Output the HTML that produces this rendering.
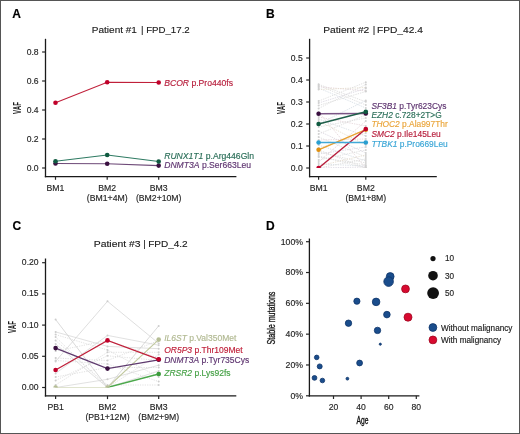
<!DOCTYPE html>
<html><head><meta charset="utf-8"><style>
html,body{margin:0;padding:0;background:#fff;}
body{width:520px;height:434px;overflow:hidden;}
svg{display:block;will-change:transform;font-family:"Liberation Sans",sans-serif;}
</style></head><body>
<svg width="520" height="434" viewBox="0 0 520 434">
<defs><clipPath id="clipB"><rect x="300" y="30" width="140" height="138"/></clipPath><clipPath id="clipC"><rect x="40" y="250" width="200" height="137.5"/></clipPath></defs>
<rect x="0" y="0" width="520" height="434" fill="#fff"/>
<g>
<rect x="0" y="0" width="520" height="434" fill="#fff"/>
<text x="12.2" y="17.8" font-size="12" fill="#000" stroke="#000" stroke-width="0.15" text-anchor="start" font-weight="bold" font-style="normal" >A</text>
<text x="91.80" y="33.3" font-size="9.75" fill="#1a1a1a" stroke="#1a1a1a" stroke-width="0.14" textLength="45.14" lengthAdjust="spacingAndGlyphs">Patient #1</text>
<text x="142.15" y="33.3" font-size="9.75" fill="#1a1a1a" stroke="#1a1a1a" stroke-width="0.12" text-anchor="middle">|</text>
<text x="146.13" y="33.3" font-size="9.75" fill="#1a1a1a" stroke="#1a1a1a" stroke-width="0.14" textLength="43.58" lengthAdjust="spacingAndGlyphs">FPD_17.2</text>
<line x1="45.5" y1="38.8" x2="45.5" y2="177.25" stroke="#1a1a1a" stroke-width="1.3" />
<line x1="44.85" y1="176.6" x2="236.4" y2="176.6" stroke="#1a1a1a" stroke-width="1.3" />
<line x1="42.1" y1="168" x2="45.5" y2="168" stroke="#262626" stroke-width="1.2" />
<text x="38.6" y="170.5" font-size="8.6" fill="#262626" stroke="#262626" stroke-width="0.15" text-anchor="end" font-weight="normal" font-style="normal" >0.0</text>
<line x1="42.1" y1="139.0" x2="45.5" y2="139.0" stroke="#262626" stroke-width="1.2" />
<text x="38.6" y="141.5" font-size="8.6" fill="#262626" stroke="#262626" stroke-width="0.15" text-anchor="end" font-weight="normal" font-style="normal" >0.2</text>
<line x1="42.1" y1="110.0" x2="45.5" y2="110.0" stroke="#262626" stroke-width="1.2" />
<text x="38.6" y="112.5" font-size="8.6" fill="#262626" stroke="#262626" stroke-width="0.15" text-anchor="end" font-weight="normal" font-style="normal" >0.4</text>
<line x1="42.1" y1="81.0" x2="45.5" y2="81.0" stroke="#262626" stroke-width="1.2" />
<text x="38.6" y="83.5" font-size="8.6" fill="#262626" stroke="#262626" stroke-width="0.15" text-anchor="end" font-weight="normal" font-style="normal" >0.6</text>
<line x1="42.1" y1="52.0" x2="45.5" y2="52.0" stroke="#262626" stroke-width="1.2" />
<text x="38.6" y="54.5" font-size="8.6" fill="#262626" stroke="#262626" stroke-width="0.15" text-anchor="end" font-weight="normal" font-style="normal" >0.8</text>
<line x1="55.5" y1="176.6" x2="55.5" y2="179.79999999999998" stroke="#262626" stroke-width="1.2" />
<text x="55.5" y="190.9" font-size="8.7" fill="#262626" stroke="#262626" stroke-width="0.15" text-anchor="middle" font-weight="normal" font-style="normal" >BM1</text>
<line x1="107.2" y1="176.6" x2="107.2" y2="179.79999999999998" stroke="#262626" stroke-width="1.2" />
<text x="107.2" y="190.9" font-size="8.7" fill="#262626" stroke="#262626" stroke-width="0.15" text-anchor="middle" font-weight="normal" font-style="normal" >BM2</text>
<text x="107.2" y="200.9" font-size="8.7" fill="#262626" stroke="#262626" stroke-width="0.15" text-anchor="middle" font-weight="normal" font-style="normal" >(BM1+4M)</text>
<line x1="158.7" y1="176.6" x2="158.7" y2="179.79999999999998" stroke="#262626" stroke-width="1.2" />
<text x="158.7" y="190.9" font-size="8.7" fill="#262626" stroke="#262626" stroke-width="0.15" text-anchor="middle" font-weight="normal" font-style="normal" >BM3</text>
<text x="158.7" y="200.9" font-size="8.7" fill="#262626" stroke="#262626" stroke-width="0.15" text-anchor="middle" font-weight="normal" font-style="normal" >(BM2+10M)</text>
<text transform="translate(20.6,108) rotate(-90) scale(0.61,1)" font-size="10.2" font-weight="bold" fill="#1a1a1a" stroke="#1a1a1a" stroke-width="0" text-anchor="middle">VAF</text>
<polyline points="55.5,163.5 107.2,163.7 158.7,165.6" fill="none" stroke="#6e4a78" stroke-width="1.1" />
<circle cx="55.5" cy="163.5" r="2.3" fill="#3a1040" />
<circle cx="107.2" cy="163.7" r="2.3" fill="#3a1040" />
<circle cx="158.7" cy="165.6" r="2.3" fill="#3a1040" />
<polyline points="55.5,161.3 107.2,155 158.7,161.5" fill="none" stroke="#2e7a62" stroke-width="1.1" />
<circle cx="55.5" cy="161.3" r="2.3" fill="#0f5a40" />
<circle cx="107.2" cy="155" r="2.3" fill="#0f5a40" />
<circle cx="158.7" cy="161.5" r="2.3" fill="#0f5a40" />
<polyline points="55.5,102.7 107.2,82.3 158.7,82.5" fill="none" stroke="#c0203a" stroke-width="1.1" />
<circle cx="55.5" cy="102.7" r="2.3" fill="#c0002a" />
<circle cx="107.2" cy="82.3" r="2.3" fill="#c0002a" />
<circle cx="158.7" cy="82.5" r="2.3" fill="#c0002a" />
<text x="164.2" y="85.7" font-size="8.6" fill="#b8203e" stroke="#b8203e" stroke-width="0.15"><tspan font-style="italic">BCOR</tspan> p.Pro440fs</text>
<text x="164.2" y="158.8" font-size="8.6" fill="#2a6e58" stroke="#2a6e58" stroke-width="0.15"><tspan font-style="italic">RUNX1T1</tspan> p.Arg446Gln</text>
<text x="164.2" y="167.7" font-size="8.6" fill="#5e3470" stroke="#5e3470" stroke-width="0.15"><tspan font-style="italic">DNMT3A</tspan> p.Ser663Leu</text>
<text x="266" y="17.7" font-size="12" fill="#000" stroke="#000" stroke-width="0.15" text-anchor="start" font-weight="bold" font-style="normal" >B</text>
<text x="323.28" y="33.3" font-size="9.75" fill="#1a1a1a" stroke="#1a1a1a" stroke-width="0.14" textLength="46.06" lengthAdjust="spacingAndGlyphs">Patient #2</text>
<text x="374.05" y="33.3" font-size="9.75" fill="#1a1a1a" stroke="#1a1a1a" stroke-width="0.12" text-anchor="middle">|</text>
<text x="376.99" y="33.3" font-size="9.75" fill="#1a1a1a" stroke="#1a1a1a" stroke-width="0.14" textLength="45.85" lengthAdjust="spacingAndGlyphs">FPD_42.4</text>
<line x1="309.6" y1="38.8" x2="309.6" y2="177.25" stroke="#1a1a1a" stroke-width="1.3" />
<line x1="308.95000000000005" y1="176.6" x2="436.8" y2="176.6" stroke="#1a1a1a" stroke-width="1.3" />
<line x1="306.20000000000005" y1="168" x2="309.6" y2="168" stroke="#262626" stroke-width="1.2" />
<text x="302.8" y="170.5" font-size="8.6" fill="#262626" stroke="#262626" stroke-width="0.15" text-anchor="end" font-weight="normal" font-style="normal" >0.0</text>
<line x1="306.20000000000005" y1="146.0" x2="309.6" y2="146.0" stroke="#262626" stroke-width="1.2" />
<text x="302.8" y="148.5" font-size="8.6" fill="#262626" stroke="#262626" stroke-width="0.15" text-anchor="end" font-weight="normal" font-style="normal" >0.1</text>
<line x1="306.20000000000005" y1="124.0" x2="309.6" y2="124.0" stroke="#262626" stroke-width="1.2" />
<text x="302.8" y="126.5" font-size="8.6" fill="#262626" stroke="#262626" stroke-width="0.15" text-anchor="end" font-weight="normal" font-style="normal" >0.2</text>
<line x1="306.20000000000005" y1="102.0" x2="309.6" y2="102.0" stroke="#262626" stroke-width="1.2" />
<text x="302.8" y="104.5" font-size="8.6" fill="#262626" stroke="#262626" stroke-width="0.15" text-anchor="end" font-weight="normal" font-style="normal" >0.3</text>
<line x1="306.20000000000005" y1="80.0" x2="309.6" y2="80.0" stroke="#262626" stroke-width="1.2" />
<text x="302.8" y="82.5" font-size="8.6" fill="#262626" stroke="#262626" stroke-width="0.15" text-anchor="end" font-weight="normal" font-style="normal" >0.4</text>
<line x1="306.20000000000005" y1="58.0" x2="309.6" y2="58.0" stroke="#262626" stroke-width="1.2" />
<text x="302.8" y="60.5" font-size="8.6" fill="#262626" stroke="#262626" stroke-width="0.15" text-anchor="end" font-weight="normal" font-style="normal" >0.5</text>
<line x1="318.6" y1="176.6" x2="318.6" y2="179.79999999999998" stroke="#262626" stroke-width="1.2" />
<text x="318.6" y="190.9" font-size="8.7" fill="#262626" stroke="#262626" stroke-width="0.15" text-anchor="middle" font-weight="normal" font-style="normal" >BM1</text>
<line x1="365.8" y1="176.6" x2="365.8" y2="179.79999999999998" stroke="#262626" stroke-width="1.2" />
<text x="365.8" y="190.9" font-size="8.7" fill="#262626" stroke="#262626" stroke-width="0.15" text-anchor="middle" font-weight="normal" font-style="normal" >BM2</text>
<text x="365.8" y="200.9" font-size="8.7" fill="#262626" stroke="#262626" stroke-width="0.15" text-anchor="middle" font-weight="normal" font-style="normal" >(BM1+8M)</text>
<text transform="translate(284.6,108) rotate(-90) scale(0.61,1)" font-size="10.2" font-weight="bold" fill="#1a1a1a" stroke="#1a1a1a" stroke-width="0" text-anchor="middle">VAF</text>
<g clip-path="url(#clipB)">
<line x1="318.6" y1="84.3" x2="365.8" y2="101.8" stroke="#d9d9d9" stroke-width="0.8" stroke-dasharray="1.4 1"/>
<line x1="318.6" y1="85.5" x2="365.8" y2="105" stroke="#dcdcdc" stroke-width="0.8" stroke-dasharray="1.4 1"/>
<line x1="318.6" y1="86.7" x2="365.8" y2="90.9" stroke="#e3d3d8" stroke-width="0.8" stroke-dasharray="1.4 1"/>
<line x1="318.6" y1="88" x2="365.8" y2="108" stroke="#d4dce3" stroke-width="0.8" stroke-dasharray="1.4 1"/>
<line x1="318.6" y1="89.5" x2="365.8" y2="87.5" stroke="#e5dccb" stroke-width="0.8" stroke-dasharray="1.4 1"/>
<line x1="318.6" y1="101.1" x2="365.8" y2="82.2" stroke="#dadada" stroke-width="0.8" stroke-dasharray="1.4 1"/>
<line x1="318.6" y1="103" x2="365.8" y2="88.5" stroke="#d8d4e0" stroke-width="0.8" stroke-dasharray="1.4 1"/>
<line x1="318.6" y1="105.5" x2="365.8" y2="91.5" stroke="#d9d9d9" stroke-width="0.8" stroke-dasharray="1.4 1"/>
<line x1="318.6" y1="108.5" x2="365.8" y2="84.5" stroke="#dcdcdc" stroke-width="0.8" stroke-dasharray="1.4 1"/>
<line x1="318.6" y1="117" x2="365.8" y2="126" stroke="#e3d3d8" stroke-width="0.8" stroke-dasharray="1.4 1"/>
<line x1="318.6" y1="119" x2="365.8" y2="136" stroke="#d4dce3" stroke-width="0.8" stroke-dasharray="1.4 1"/>
<line x1="318.6" y1="121" x2="365.8" y2="145" stroke="#e5dccb" stroke-width="0.8" stroke-dasharray="1.4 1"/>
<line x1="318.6" y1="127" x2="365.8" y2="118" stroke="#dadada" stroke-width="0.8" stroke-dasharray="1.4 1"/>
<line x1="318.6" y1="131" x2="365.8" y2="153" stroke="#d8d4e0" stroke-width="0.8" stroke-dasharray="1.4 1"/>
<line x1="318.6" y1="134" x2="365.8" y2="115" stroke="#d9d9d9" stroke-width="0.8" stroke-dasharray="1.4 1"/>
<line x1="318.6" y1="137" x2="365.8" y2="157" stroke="#dcdcdc" stroke-width="0.8" stroke-dasharray="1.4 1"/>
<line x1="318.6" y1="140" x2="365.8" y2="139" stroke="#e3d3d8" stroke-width="0.8" stroke-dasharray="1.4 1"/>
<line x1="318.6" y1="145" x2="365.8" y2="161" stroke="#d4dce3" stroke-width="0.8" stroke-dasharray="1.4 1"/>
<line x1="318.6" y1="148" x2="365.8" y2="133" stroke="#e5dccb" stroke-width="0.8" stroke-dasharray="1.4 1"/>
<line x1="318.6" y1="152" x2="365.8" y2="163" stroke="#dadada" stroke-width="0.8" stroke-dasharray="1.4 1"/>
<line x1="318.6" y1="154" x2="365.8" y2="147" stroke="#d8d4e0" stroke-width="0.8" stroke-dasharray="1.4 1"/>
<line x1="318.6" y1="157" x2="365.8" y2="165" stroke="#d9d9d9" stroke-width="0.8" stroke-dasharray="1.4 1"/>
<line x1="318.6" y1="160" x2="365.8" y2="150" stroke="#dcdcdc" stroke-width="0.8" stroke-dasharray="1.4 1"/>
<line x1="318.6" y1="162" x2="365.8" y2="121" stroke="#e3d3d8" stroke-width="0.8" stroke-dasharray="1.4 1"/>
<line x1="318.6" y1="164" x2="365.8" y2="166" stroke="#d4dce3" stroke-width="0.8" stroke-dasharray="1.4 1"/>
<line x1="318.6" y1="166" x2="365.8" y2="155" stroke="#e5dccb" stroke-width="0.8" stroke-dasharray="1.4 1"/>
<line x1="318.6" y1="168" x2="365.8" y2="159" stroke="#dadada" stroke-width="0.8" stroke-dasharray="1.4 1"/>
<line x1="318.6" y1="168" x2="365.8" y2="167" stroke="#d8d4e0" stroke-width="0.8" stroke-dasharray="1.4 1"/>
<line x1="318.6" y1="150" x2="365.8" y2="168" stroke="#d9d9d9" stroke-width="0.8" stroke-dasharray="1.4 1"/>
<line x1="318.6" y1="156" x2="365.8" y2="168" stroke="#dcdcdc" stroke-width="0.8" stroke-dasharray="1.4 1"/>
<line x1="318.6" y1="112" x2="365.8" y2="168" stroke="#e3d3d8" stroke-width="0.8" stroke-dasharray="1.4 1"/>
<line x1="318.6" y1="124" x2="365.8" y2="100.5" stroke="#d4dce3" stroke-width="0.8" stroke-dasharray="1.4 1"/>
<circle cx="318.6" cy="84.3" r="1.0" fill="#d0d0d0" />
<circle cx="365.8" cy="101.8" r="1.0" fill="#d0d0d0" />
<circle cx="318.6" cy="85.5" r="1.0" fill="#d0d0d0" />
<circle cx="365.8" cy="105" r="1.0" fill="#d0d0d0" />
<circle cx="318.6" cy="86.7" r="1.0" fill="#d0d0d0" />
<circle cx="365.8" cy="90.9" r="1.0" fill="#d0d0d0" />
<circle cx="318.6" cy="88" r="1.0" fill="#d0d0d0" />
<circle cx="365.8" cy="108" r="1.0" fill="#d0d0d0" />
<circle cx="318.6" cy="89.5" r="1.0" fill="#d0d0d0" />
<circle cx="365.8" cy="87.5" r="1.0" fill="#d0d0d0" />
<circle cx="318.6" cy="101.1" r="1.0" fill="#d0d0d0" />
<circle cx="365.8" cy="82.2" r="1.0" fill="#d0d0d0" />
<circle cx="318.6" cy="103" r="1.0" fill="#d0d0d0" />
<circle cx="365.8" cy="88.5" r="1.0" fill="#d0d0d0" />
<circle cx="318.6" cy="105.5" r="1.0" fill="#d0d0d0" />
<circle cx="365.8" cy="91.5" r="1.0" fill="#d0d0d0" />
<circle cx="318.6" cy="108.5" r="1.0" fill="#d0d0d0" />
<circle cx="365.8" cy="84.5" r="1.0" fill="#d0d0d0" />
<circle cx="318.6" cy="117" r="1.0" fill="#d0d0d0" />
<circle cx="365.8" cy="126" r="1.0" fill="#d0d0d0" />
<circle cx="318.6" cy="119" r="1.0" fill="#d0d0d0" />
<circle cx="365.8" cy="136" r="1.0" fill="#d0d0d0" />
<circle cx="318.6" cy="121" r="1.0" fill="#d0d0d0" />
<circle cx="365.8" cy="145" r="1.0" fill="#d0d0d0" />
<circle cx="318.6" cy="127" r="1.0" fill="#d0d0d0" />
<circle cx="365.8" cy="118" r="1.0" fill="#d0d0d0" />
<circle cx="318.6" cy="131" r="1.0" fill="#d0d0d0" />
<circle cx="365.8" cy="153" r="1.0" fill="#d0d0d0" />
<circle cx="318.6" cy="134" r="1.0" fill="#d0d0d0" />
<circle cx="365.8" cy="115" r="1.0" fill="#d0d0d0" />
<circle cx="318.6" cy="137" r="1.0" fill="#d0d0d0" />
<circle cx="365.8" cy="157" r="1.0" fill="#d0d0d0" />
<circle cx="318.6" cy="140" r="1.0" fill="#d0d0d0" />
<circle cx="365.8" cy="139" r="1.0" fill="#d0d0d0" />
<circle cx="318.6" cy="145" r="1.0" fill="#d0d0d0" />
<circle cx="365.8" cy="161" r="1.0" fill="#d0d0d0" />
<circle cx="318.6" cy="148" r="1.0" fill="#d0d0d0" />
<circle cx="365.8" cy="133" r="1.0" fill="#d0d0d0" />
<circle cx="318.6" cy="152" r="1.0" fill="#d0d0d0" />
<circle cx="365.8" cy="163" r="1.0" fill="#d0d0d0" />
<circle cx="318.6" cy="154" r="1.0" fill="#d0d0d0" />
<circle cx="365.8" cy="147" r="1.0" fill="#d0d0d0" />
<circle cx="318.6" cy="157" r="1.0" fill="#d0d0d0" />
<circle cx="365.8" cy="165" r="1.0" fill="#d0d0d0" />
<circle cx="318.6" cy="160" r="1.0" fill="#d0d0d0" />
<circle cx="365.8" cy="150" r="1.0" fill="#d0d0d0" />
<circle cx="318.6" cy="162" r="1.0" fill="#d0d0d0" />
<circle cx="365.8" cy="121" r="1.0" fill="#d0d0d0" />
<circle cx="318.6" cy="164" r="1.0" fill="#d0d0d0" />
<circle cx="365.8" cy="166" r="1.0" fill="#d0d0d0" />
<circle cx="318.6" cy="166" r="1.0" fill="#d0d0d0" />
<circle cx="365.8" cy="155" r="1.0" fill="#d0d0d0" />
<circle cx="318.6" cy="168" r="1.0" fill="#d0d0d0" />
<circle cx="365.8" cy="159" r="1.0" fill="#d0d0d0" />
<circle cx="318.6" cy="168" r="1.0" fill="#d0d0d0" />
<circle cx="365.8" cy="167" r="1.0" fill="#d0d0d0" />
<circle cx="318.6" cy="150" r="1.0" fill="#d0d0d0" />
<circle cx="365.8" cy="168" r="1.0" fill="#d0d0d0" />
<circle cx="318.6" cy="156" r="1.0" fill="#d0d0d0" />
<circle cx="365.8" cy="168" r="1.0" fill="#d0d0d0" />
<circle cx="318.6" cy="112" r="1.0" fill="#d0d0d0" />
<circle cx="365.8" cy="168" r="1.0" fill="#d0d0d0" />
<circle cx="318.6" cy="124" r="1.0" fill="#d0d0d0" />
<circle cx="365.8" cy="100.5" r="1.0" fill="#d0d0d0" />
<polyline points="318.6,149.8 365.8,129.7" fill="none" stroke="#e8a030" stroke-width="1.4" />
<circle cx="318.6" cy="149.8" r="2.3" fill="#e09010" />
<circle cx="365.8" cy="129.7" r="2.3" fill="#e09010" />
<polyline points="318.6,168 365.8,129" fill="none" stroke="#b8203e" stroke-width="1.4" />
<circle cx="318.6" cy="168" r="2.3" fill="#c0002a" />
<circle cx="365.8" cy="129" r="2.3" fill="#c0002a" />
<polyline points="318.6,142.5 365.8,142.5" fill="none" stroke="#40a8d8" stroke-width="1.4" />
<circle cx="318.6" cy="142.5" r="2.3" fill="#2a9fd0" />
<circle cx="365.8" cy="142.5" r="2.3" fill="#2a9fd0" />
<polyline points="318.6,113.8 365.8,113.4" fill="none" stroke="#7a5585" stroke-width="1.5" />
<circle cx="318.6" cy="113.8" r="2.3" fill="#3a1040" />
<circle cx="365.8" cy="113.4" r="2.3" fill="#3a1040" />
<polyline points="318.6,124 365.8,111.8" fill="none" stroke="#1f5f4a" stroke-width="1.4" />
<circle cx="318.6" cy="124" r="2.3" fill="#0f5a40" />
<circle cx="365.8" cy="111.8" r="2.3" fill="#0f5a40" />
</g>
<text x="371.4" y="108.5" font-size="8.4" fill="#5e3470" stroke="#5e3470" stroke-width="0.15"><tspan font-style="italic">SF3B1</tspan> p.Tyr623Cys</text>
<text x="371.4" y="117.8" font-size="8.4" fill="#2a6e58" stroke="#2a6e58" stroke-width="0.15"><tspan font-style="italic">EZH2</tspan> c.728+2T&gt;G</text>
<text x="371.4" y="127.1" font-size="8.4" fill="#eaa53a" stroke="#eaa53a" stroke-width="0.15"><tspan font-style="italic">THOC2</tspan> p.Ala997Thr</text>
<text x="371.4" y="136.6" font-size="8.4" fill="#b8203e" stroke="#b8203e" stroke-width="0.15"><tspan font-style="italic">SMC2</tspan> p.Ile145Leu</text>
<text x="371.4" y="146.5" font-size="8.4" fill="#3aa6d6" stroke="#3aa6d6" stroke-width="0.15"><tspan font-style="italic">TTBK1</tspan> p.Pro669Leu</text>
<text x="12.6" y="230.3" font-size="12" fill="#000" stroke="#000" stroke-width="0.15" text-anchor="start" font-weight="bold" font-style="normal" >C</text>
<text x="93.77" y="246.7" font-size="9.75" fill="#1a1a1a" stroke="#1a1a1a" stroke-width="0.14" textLength="46.84" lengthAdjust="spacingAndGlyphs">Patient #3</text>
<text x="144.45" y="246.7" font-size="9.75" fill="#1a1a1a" stroke="#1a1a1a" stroke-width="0.12" text-anchor="middle">|</text>
<text x="148.20" y="246.7" font-size="9.75" fill="#1a1a1a" stroke="#1a1a1a" stroke-width="0.14" textLength="39.51" lengthAdjust="spacingAndGlyphs">FPD_4.2</text>
<line x1="45.5" y1="258.5" x2="45.5" y2="396.54999999999995" stroke="#1a1a1a" stroke-width="1.3" />
<line x1="44.85" y1="395.9" x2="236.3" y2="395.9" stroke="#1a1a1a" stroke-width="1.3" />
<line x1="42.1" y1="387.5" x2="45.5" y2="387.5" stroke="#262626" stroke-width="1.2" />
<text x="38.6" y="390.0" font-size="8.6" fill="#262626" stroke="#262626" stroke-width="0.15" text-anchor="end" font-weight="normal" font-style="normal" >0.00</text>
<line x1="42.1" y1="356.3" x2="45.5" y2="356.3" stroke="#262626" stroke-width="1.2" />
<text x="38.6" y="358.8" font-size="8.6" fill="#262626" stroke="#262626" stroke-width="0.15" text-anchor="end" font-weight="normal" font-style="normal" >0.05</text>
<line x1="42.1" y1="325.1" x2="45.5" y2="325.1" stroke="#262626" stroke-width="1.2" />
<text x="38.6" y="327.6" font-size="8.6" fill="#262626" stroke="#262626" stroke-width="0.15" text-anchor="end" font-weight="normal" font-style="normal" >0.10</text>
<line x1="42.1" y1="293.9" x2="45.5" y2="293.9" stroke="#262626" stroke-width="1.2" />
<text x="38.6" y="296.4" font-size="8.6" fill="#262626" stroke="#262626" stroke-width="0.15" text-anchor="end" font-weight="normal" font-style="normal" >0.15</text>
<line x1="42.1" y1="262.7" x2="45.5" y2="262.7" stroke="#262626" stroke-width="1.2" />
<text x="38.6" y="265.2" font-size="8.6" fill="#262626" stroke="#262626" stroke-width="0.15" text-anchor="end" font-weight="normal" font-style="normal" >0.20</text>
<line x1="55.6" y1="395.9" x2="55.6" y2="399.09999999999997" stroke="#262626" stroke-width="1.2" />
<text x="55.6" y="410.2" font-size="8.7" fill="#262626" stroke="#262626" stroke-width="0.15" text-anchor="middle" font-weight="normal" font-style="normal" >PB1</text>
<line x1="107.5" y1="395.9" x2="107.5" y2="399.09999999999997" stroke="#262626" stroke-width="1.2" />
<text x="107.5" y="410.2" font-size="8.7" fill="#262626" stroke="#262626" stroke-width="0.15" text-anchor="middle" font-weight="normal" font-style="normal" >BM2</text>
<text x="107.5" y="420.2" font-size="8.7" fill="#262626" stroke="#262626" stroke-width="0.15" text-anchor="middle" font-weight="normal" font-style="normal" >(PB1+12M)</text>
<line x1="158.7" y1="395.9" x2="158.7" y2="399.09999999999997" stroke="#262626" stroke-width="1.2" />
<text x="158.7" y="410.2" font-size="8.7" fill="#262626" stroke="#262626" stroke-width="0.15" text-anchor="middle" font-weight="normal" font-style="normal" >BM3</text>
<text x="158.7" y="420.2" font-size="8.7" fill="#262626" stroke="#262626" stroke-width="0.15" text-anchor="middle" font-weight="normal" font-style="normal" >(BM2+9M)</text>
<text transform="translate(15.9,326.9) rotate(-90) scale(0.61,1)" font-size="10.2" font-weight="bold" fill="#1a1a1a" stroke="#1a1a1a" stroke-width="0" text-anchor="middle">VAF</text>
<g clip-path="url(#clipC)">
<polyline points="55.6,331.9 107.5,346.4 158.7,348.7" fill="none" stroke="#d4d4d4" stroke-width="0.7" />
<polyline points="55.6,334.6 107.5,350 158.7,377" fill="none" stroke="#d4d4d4" stroke-width="0.7" stroke-dasharray="1.2 1.2"/>
<polyline points="55.6,337 107.5,387.5 158.7,354.6" fill="none" stroke="#d4d4d4" stroke-width="0.7" stroke-dasharray="1.2 1.2"/>
<polyline points="55.6,340.5 107.5,385 158.7,385" fill="none" stroke="#d4d4d4" stroke-width="0.7" stroke-dasharray="1.2 1.2"/>
<polyline points="55.6,344 107.5,387.5 158.7,371" fill="none" stroke="#d4d4d4" stroke-width="0.7" />
<polyline points="55.6,351 107.5,340.5 158.7,358" fill="none" stroke="#d4d4d4" stroke-width="0.7" stroke-dasharray="1.2 1.2"/>
<polyline points="55.6,358 107.5,360.5 158.7,340.5" fill="none" stroke="#d4d4d4" stroke-width="0.7" stroke-dasharray="1.2 1.2"/>
<polyline points="55.6,360.5 107.5,364 158.7,381.6" fill="none" stroke="#d4d4d4" stroke-width="0.7" stroke-dasharray="1.2 1.2"/>
<polyline points="55.6,373.4 107.5,335.4 158.7,345.2" fill="none" stroke="#d4d4d4" stroke-width="0.7" />
<polyline points="55.6,377 107.5,367.5 158.7,367.5" fill="none" stroke="#d4d4d4" stroke-width="0.7" stroke-dasharray="1.2 1.2"/>
<polyline points="55.6,380.5 107.5,355.8 158.7,360.5" fill="none" stroke="#d4d4d4" stroke-width="0.7" stroke-dasharray="1.2 1.2"/>
<polyline points="55.6,385 107.5,352.3 158.7,352.3" fill="none" stroke="#d4d4d4" stroke-width="0.7" stroke-dasharray="1.2 1.2"/>
<polyline points="55.6,387.5 107.5,379.3 158.7,365.2" fill="none" stroke="#d4d4d4" stroke-width="0.7" />
<polyline points="55.6,319.5 107.5,387.5 158.7,325.9" fill="none" stroke="#d0d0d0" stroke-width="0.8" />
<polyline points="55.6,361.4 107.5,301.3 158.7,343.4" fill="none" stroke="#d6d6d6" stroke-width="0.8" />
<circle cx="55.6" cy="331.9" r="1.0" fill="#cdcdcd" />
<circle cx="55.6" cy="334.6" r="1.0" fill="#cdcdcd" />
<circle cx="55.6" cy="337" r="1.0" fill="#cdcdcd" />
<circle cx="55.6" cy="340.5" r="1.0" fill="#cdcdcd" />
<circle cx="55.6" cy="344" r="1.0" fill="#cdcdcd" />
<circle cx="55.6" cy="351" r="1.0" fill="#cdcdcd" />
<circle cx="55.6" cy="358" r="1.0" fill="#cdcdcd" />
<circle cx="55.6" cy="360.5" r="1.0" fill="#cdcdcd" />
<circle cx="55.6" cy="373.4" r="1.0" fill="#cdcdcd" />
<circle cx="55.6" cy="377" r="1.0" fill="#cdcdcd" />
<circle cx="55.6" cy="380.5" r="1.0" fill="#cdcdcd" />
<circle cx="55.6" cy="385" r="1.0" fill="#cdcdcd" />
<circle cx="55.6" cy="387.5" r="1.0" fill="#cdcdcd" />
<circle cx="55.6" cy="319.5" r="1.0" fill="#cdcdcd" />
<circle cx="55.6" cy="361.4" r="1.0" fill="#cdcdcd" />
<circle cx="107.5" cy="335.4" r="1.0" fill="#cdcdcd" />
<circle cx="107.5" cy="340.5" r="1.0" fill="#cdcdcd" />
<circle cx="107.5" cy="346.4" r="1.0" fill="#cdcdcd" />
<circle cx="107.5" cy="350" r="1.0" fill="#cdcdcd" />
<circle cx="107.5" cy="352.3" r="1.0" fill="#cdcdcd" />
<circle cx="107.5" cy="355.8" r="1.0" fill="#cdcdcd" />
<circle cx="107.5" cy="360.5" r="1.0" fill="#cdcdcd" />
<circle cx="107.5" cy="364" r="1.0" fill="#cdcdcd" />
<circle cx="107.5" cy="367.5" r="1.0" fill="#cdcdcd" />
<circle cx="107.5" cy="379.3" r="1.0" fill="#cdcdcd" />
<circle cx="107.5" cy="385" r="1.0" fill="#cdcdcd" />
<circle cx="107.5" cy="387.5" r="1.0" fill="#cdcdcd" />
<circle cx="107.5" cy="387.5" r="1.0" fill="#cdcdcd" />
<circle cx="107.5" cy="301.3" r="1.0" fill="#cdcdcd" />
<circle cx="158.7" cy="340.5" r="1.0" fill="#cdcdcd" />
<circle cx="158.7" cy="345.2" r="1.0" fill="#cdcdcd" />
<circle cx="158.7" cy="348.7" r="1.0" fill="#cdcdcd" />
<circle cx="158.7" cy="352.3" r="1.0" fill="#cdcdcd" />
<circle cx="158.7" cy="354.6" r="1.0" fill="#cdcdcd" />
<circle cx="158.7" cy="358" r="1.0" fill="#cdcdcd" />
<circle cx="158.7" cy="360.5" r="1.0" fill="#cdcdcd" />
<circle cx="158.7" cy="365.2" r="1.0" fill="#cdcdcd" />
<circle cx="158.7" cy="367.5" r="1.0" fill="#cdcdcd" />
<circle cx="158.7" cy="371" r="1.0" fill="#cdcdcd" />
<circle cx="158.7" cy="377" r="1.0" fill="#cdcdcd" />
<circle cx="158.7" cy="381.6" r="1.0" fill="#cdcdcd" />
<circle cx="158.7" cy="385" r="1.0" fill="#cdcdcd" />
<circle cx="158.7" cy="325.9" r="1.0" fill="#cdcdcd" />
<circle cx="158.7" cy="343.4" r="1.0" fill="#cdcdcd" />
<polyline points="107.5,387.5 158.7,374" fill="none" stroke="#4aa84a" stroke-width="1.3" />
<circle cx="158.7" cy="374" r="2.3" fill="#3a9a3a" />
<polyline points="55.6,387.5 107.5,387.5 158.7,339.6" fill="none" stroke="#c2c9a0" stroke-width="1.15" />
<circle cx="55.6" cy="387.5" r="2.3" fill="#b5bd95" />
<circle cx="107.5" cy="387.5" r="2.3" fill="#b5bd95" />
<circle cx="158.7" cy="339.6" r="2.3" fill="#b5bd95" />
<polyline points="55.6,348.1 107.5,368.6 158.7,359.8" fill="none" stroke="#5e3a6e" stroke-width="1.3" />
<circle cx="55.6" cy="348.1" r="2.3" fill="#3a1040" />
<circle cx="107.5" cy="368.6" r="2.3" fill="#3a1040" />
<circle cx="158.7" cy="359.8" r="2.3" fill="#3a1040" />
<polyline points="55.6,370 107.5,340.4 158.7,359.3" fill="none" stroke="#c0203a" stroke-width="1.3" />
<circle cx="55.6" cy="370" r="2.3" fill="#c0002a" />
<circle cx="107.5" cy="340.4" r="2.3" fill="#c0002a" />
<circle cx="158.7" cy="359.3" r="2.3" fill="#c0002a" />
</g>
<text x="164.2" y="341" font-size="8.5" fill="#b0b890" stroke="#b0b890" stroke-width="0.15"><tspan font-style="italic">IL6ST</tspan> p.Val350Met</text>
<text x="164.2" y="353" font-size="8.5" fill="#c0203a" stroke="#c0203a" stroke-width="0.15"><tspan font-style="italic">OR5P3</tspan> p.Thr109Met</text>
<text x="164.2" y="362.9" font-size="8.5" fill="#5e3470" stroke="#5e3470" stroke-width="0.15"><tspan font-style="italic">DNMT3A</tspan> p.Tyr735Cys</text>
<text x="164.2" y="376.1" font-size="8.5" fill="#44a044" stroke="#44a044" stroke-width="0.15"><tspan font-style="italic">ZRSR2</tspan> p.Lys92fs</text>
<text x="266" y="229.9" font-size="12" fill="#000" stroke="#000" stroke-width="0.15" text-anchor="start" font-weight="bold" font-style="normal" >D</text>
<line x1="309.4" y1="238.5" x2="309.4" y2="396.54999999999995" stroke="#1a1a1a" stroke-width="1.3" />
<line x1="308.75" y1="395.9" x2="419.4" y2="395.9" stroke="#1a1a1a" stroke-width="1.3" />
<line x1="306.0" y1="395.8" x2="309.4" y2="395.8" stroke="#262626" stroke-width="1.2" />
<text x="303" y="398.6" font-size="8.7" fill="#262626" stroke="#262626" stroke-width="0.15" text-anchor="end" font-weight="normal" font-style="normal" >0%</text>
<line x1="306.0" y1="364.98" x2="309.4" y2="364.98" stroke="#262626" stroke-width="1.2" />
<text x="303" y="367.78000000000003" font-size="8.7" fill="#262626" stroke="#262626" stroke-width="0.15" text-anchor="end" font-weight="normal" font-style="normal" >20%</text>
<line x1="306.0" y1="334.16" x2="309.4" y2="334.16" stroke="#262626" stroke-width="1.2" />
<text x="303" y="336.96000000000004" font-size="8.7" fill="#262626" stroke="#262626" stroke-width="0.15" text-anchor="end" font-weight="normal" font-style="normal" >40%</text>
<line x1="306.0" y1="303.34000000000003" x2="309.4" y2="303.34000000000003" stroke="#262626" stroke-width="1.2" />
<text x="303" y="306.14000000000004" font-size="8.7" fill="#262626" stroke="#262626" stroke-width="0.15" text-anchor="end" font-weight="normal" font-style="normal" >60%</text>
<line x1="306.0" y1="272.52" x2="309.4" y2="272.52" stroke="#262626" stroke-width="1.2" />
<text x="303" y="275.32" font-size="8.7" fill="#262626" stroke="#262626" stroke-width="0.15" text-anchor="end" font-weight="normal" font-style="normal" >80%</text>
<line x1="306.0" y1="241.70000000000002" x2="309.4" y2="241.70000000000002" stroke="#262626" stroke-width="1.2" />
<text x="303" y="244.50000000000003" font-size="8.7" fill="#262626" stroke="#262626" stroke-width="0.15" text-anchor="end" font-weight="normal" font-style="normal" >100%</text>
<line x1="333.5" y1="395.8" x2="333.5" y2="399.0" stroke="#262626" stroke-width="1.2" />
<text x="333.5" y="410.4" font-size="8.6" fill="#262626" stroke="#262626" stroke-width="0.15" text-anchor="middle" font-weight="normal" font-style="normal" >20</text>
<line x1="361.09999999999997" y1="395.8" x2="361.09999999999997" y2="399.0" stroke="#262626" stroke-width="1.2" />
<text x="361.09999999999997" y="410.4" font-size="8.6" fill="#262626" stroke="#262626" stroke-width="0.15" text-anchor="middle" font-weight="normal" font-style="normal" >40</text>
<line x1="388.7" y1="395.8" x2="388.7" y2="399.0" stroke="#262626" stroke-width="1.2" />
<text x="388.7" y="410.4" font-size="8.6" fill="#262626" stroke="#262626" stroke-width="0.15" text-anchor="middle" font-weight="normal" font-style="normal" >60</text>
<line x1="416.29999999999995" y1="395.8" x2="416.29999999999995" y2="399.0" stroke="#262626" stroke-width="1.2" />
<text x="416.29999999999995" y="410.4" font-size="8.6" fill="#262626" stroke="#262626" stroke-width="0.15" text-anchor="middle" font-weight="normal" font-style="normal" >80</text>
<text transform="translate(274.6,318) rotate(-90) scale(0.71,1)" font-size="10" font-weight="normal" fill="#1a1a1a" stroke="#1a1a1a" stroke-width="0.35" text-anchor="middle">Stable mutations</text>
<text transform="translate(362.4,423.9) scale(0.67,1)" font-size="10" fill="#111" stroke="#111" stroke-width="0.35" text-anchor="middle">Age</text>
<circle cx="316.7" cy="357.4" r="2.3" fill="#1a4d8c" stroke="#0f356a" stroke-width="0.8"/>
<circle cx="319.7" cy="366.4" r="2.5" fill="#1a4d8c" stroke="#0f356a" stroke-width="0.8"/>
<circle cx="314.5" cy="377.9" r="2.4" fill="#1a4d8c" stroke="#0f356a" stroke-width="0.8"/>
<circle cx="322.4" cy="380.5" r="2.3" fill="#1a4d8c" stroke="#0f356a" stroke-width="0.8"/>
<circle cx="347.4" cy="378.7" r="1.4000000000000001" fill="#1a4d8c" stroke="#0f356a" stroke-width="0.8"/>
<circle cx="359.6" cy="363" r="2.9" fill="#1a4d8c" stroke="#0f356a" stroke-width="0.8"/>
<circle cx="356.9" cy="301.2" r="3.0999999999999996" fill="#1a4d8c" stroke="#0f356a" stroke-width="0.8"/>
<circle cx="376.1" cy="301.9" r="3.8" fill="#1a4d8c" stroke="#0f356a" stroke-width="0.8"/>
<circle cx="386.9" cy="314.6" r="3.3" fill="#1a4d8c" stroke="#0f356a" stroke-width="0.8"/>
<circle cx="348.5" cy="323.2" r="3.1999999999999997" fill="#1a4d8c" stroke="#0f356a" stroke-width="0.8"/>
<circle cx="377.5" cy="330.4" r="3.1999999999999997" fill="#1a4d8c" stroke="#0f356a" stroke-width="0.8"/>
<circle cx="380.3" cy="344.2" r="1.1" fill="#1a4d8c" stroke="#0f356a" stroke-width="0.8"/>
<circle cx="390.2" cy="276.5" r="3.8999999999999995" fill="#1a4d8c" stroke="#0f356a" stroke-width="0.8"/>
<circle cx="388.6" cy="281.6" r="4.8" fill="#1a4d8c" stroke="#0f356a" stroke-width="0.8"/>
<circle cx="405.5" cy="288.9" r="3.9" fill="#d80a30" stroke="#a00620" stroke-width="0.8"/>
<circle cx="408" cy="317.2" r="4.0" fill="#d80a30" stroke="#a00620" stroke-width="0.8"/>
<circle cx="433" cy="258.6" r="2.6" fill="#111" />
<text x="445" y="261.0" font-size="8.2" fill="#262626" stroke="#262626" stroke-width="0.15" text-anchor="start" font-weight="normal" font-style="normal" >10</text>
<circle cx="433" cy="275.7" r="4.8" fill="#111" />
<text x="445" y="278.6" font-size="8.2" fill="#262626" stroke="#262626" stroke-width="0.15" text-anchor="start" font-weight="normal" font-style="normal" >30</text>
<circle cx="433.1" cy="293.1" r="5.9" fill="#111" />
<text x="445" y="296.0" font-size="8.2" fill="#262626" stroke="#262626" stroke-width="0.15" text-anchor="start" font-weight="normal" font-style="normal" >50</text>
<circle cx="432.9" cy="327.5" r="3.9" fill="#1a4d8c" stroke="#0f356a" stroke-width="0.8"/>
<text x="441" y="330.6" font-size="8.2" fill="#1a1a1a" stroke="#1a1a1a" stroke-width="0.15" text-anchor="start" font-weight="normal" font-style="normal" >Without malignancy</text>
<circle cx="432.9" cy="339.9" r="3.9" fill="#d80a30" stroke="#a00620" stroke-width="0.8"/>
<text x="441" y="342.8" font-size="8.2" fill="#1a1a1a" stroke="#1a1a1a" stroke-width="0.15" text-anchor="start" font-weight="normal" font-style="normal" >With malignancy</text>
</g>
<rect x="0.5" y="0.5" width="519" height="433" fill="none" stroke="#555" stroke-width="1"/>
</svg>
</body></html>
